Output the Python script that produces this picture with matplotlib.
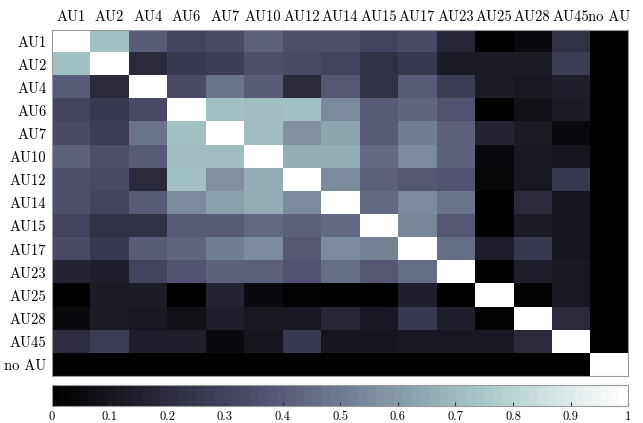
import numpy as np
import matplotlib
matplotlib.use("Agg")
import matplotlib.pyplot as plt

plt.rcParams['font.family'] = 'serif'
plt.rcParams['font.serif'] = ['cmr10']
plt.rcParams['axes.formatter.use_mathtext'] = True

labels = ["AU1", "AU2", "AU4", "AU6", "AU7", "AU10", "AU12", "AU14",
          "AU15", "AU17", "AU23", "AU25", "AU28", "AU45", "no AU"]

# co-occurrence values, row by row
r_au1 = [1.00, 0.72, 0.40, 0.30, 0.33, 0.42, 0.35, 0.35, 0.30, 0.33, 0.18, 0.00, 0.06, 0.22, 0]
r_au2 = [0.72, 1.00, 0.20, 0.25, 0.28, 0.35, 0.33, 0.31, 0.22, 0.25, 0.14, 0.13, 0.13, 0.27, 0]
r_au4 = [0.40, 0.20, 1.00, 0.34, 0.48, 0.40, 0.20, 0.38, 0.22, 0.40, 0.28, 0.14, 0.12, 0.15, 0]
r_au6 = [0.30, 0.25, 0.33, 1.00, 0.72, 0.71, 0.72, 0.55, 0.40, 0.43, 0.37, 0.00, 0.08, 0.14, 0]
r_au7 = [0.33, 0.27, 0.48, 0.72, 1.00, 0.71, 0.57, 0.63, 0.40, 0.50, 0.41, 0.17, 0.14, 0.05, 0]
r_au10 = [0.42, 0.35, 0.40, 0.71, 0.71, 1.00, 0.66, 0.66, 0.45, 0.55, 0.41, 0.05, 0.12, 0.10, 0]
r_au12 = [0.35, 0.33, 0.20, 0.72, 0.57, 0.66, 1.00, 0.55, 0.41, 0.39, 0.36, 0.04, 0.12, 0.25, 0]
r_au14 = [0.35, 0.31, 0.40, 0.55, 0.62, 0.66, 0.55, 1.00, 0.44, 0.55, 0.47, 0.00, 0.20, 0.10, 0]
r_au15 = [0.30, 0.22, 0.22, 0.40, 0.40, 0.45, 0.41, 0.44, 1.00, 0.54, 0.39, 0.00, 0.14, 0.10, 0]
r_au17 = [0.33, 0.25, 0.40, 0.43, 0.50, 0.55, 0.39, 0.55, 0.53, 1.00, 0.46, 0.15, 0.25, 0.10, 0]
r_au23 = [0.17, 0.15, 0.30, 0.36, 0.41, 0.41, 0.36, 0.46, 0.39, 0.46, 1.00, 0.00, 0.15, 0.11, 0]
r_au25 = [0.00, 0.13, 0.14, 0.00, 0.17, 0.05, 0.03, 0.00, 0.00, 0.15, 0.00, 1.00, 0.02, 0.12, 0]
r_au28 = [0.06, 0.13, 0.12, 0.08, 0.15, 0.12, 0.12, 0.18, 0.12, 0.25, 0.15, 0.02, 1.00, 0.20, 0]
r_au45 = [0.21, 0.27, 0.15, 0.15, 0.05, 0.10, 0.25, 0.10, 0.10, 0.12, 0.12, 0.12, 0.20, 1.00, 0]
r_noau = [0, 0, 0, 0, 0, 0, 0, 0, 0, 0, 0, 0, 0, 0, 1.00]

mat = np.array([r_au1, r_au2, r_au4, r_au6, r_au7, r_au10, r_au12, r_au14,
                r_au15, r_au17, r_au23, r_au25, r_au28, r_au45, r_noau])

cmap = plt.get_cmap('bone', 64)

fig = plt.figure(figsize=(6.43, 4.23), dpi=100)
ax = fig.add_axes([0.081, 0.111, 0.896, 0.818])
im = ax.imshow(mat, cmap=cmap, vmin=0, vmax=1, aspect='auto', interpolation='nearest')

ax.set_xticks(range(len(labels)))
ax.set_yticks(range(len(labels)))
ax.set_xticklabels(labels, fontsize=10.5)
ax.set_yticklabels(labels, fontsize=10.5)
ax.xaxis.tick_top()
ax.tick_params(length=0, pad=4)
for s in ax.spines.values():
    s.set_color('#999999')
    s.set_linewidth(0.8)

cax = fig.add_axes([0.081, 0.040, 0.896, 0.050])
cb = fig.colorbar(im, cax=cax, orientation='horizontal')
cb.set_ticks(np.arange(0, 1.01, 0.1))
cb.set_ticklabels(["0", "0.1", "0.2", "0.3", "0.4", "0.5", "0.6", "0.7", "0.8", "0.9", "1"])
cax.tick_params(direction='in', length=3, labelsize=9, color='#333333')
cb.outline.set_edgecolor('#999999')
cb.outline.set_linewidth(0.8)

fig.savefig("out.png", dpi=100)
